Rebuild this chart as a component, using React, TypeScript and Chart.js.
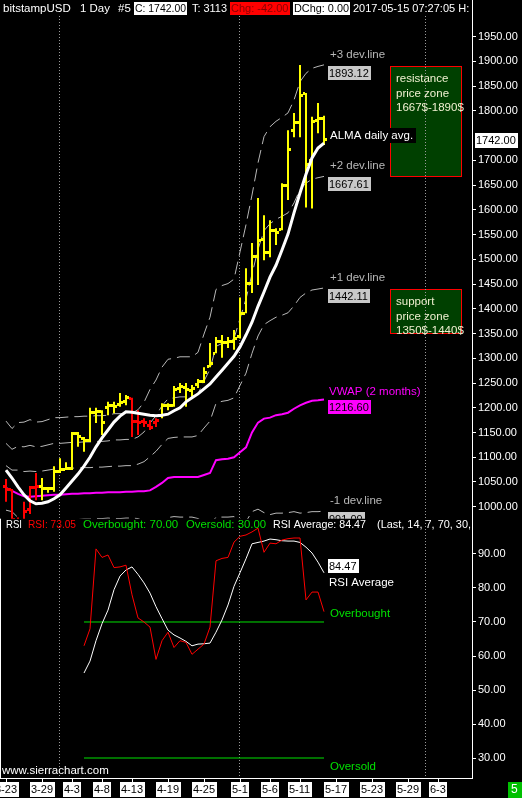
import { useEffect, useRef } from 'react';
import { Chart, registerables } from 'chart.js';

Chart.register(...registerables);

// ---------------- data ----------------
const barDates = [
  '3-23', '3-24', '3-25', '3-26', '3-27', '3-28', '3-29', '3-30', '3-31',
  '4-1', '4-2', '4-3', '4-4', '4-5', '4-6', '4-7', '4-8', '4-9', '4-10',
  '4-11', '4-12', '4-13', '4-14', '4-15', '4-16', '4-17', '4-18', '4-19', '4-20',
  '4-21', '4-22', '4-23', '4-24', '4-25', '4-26', '4-27', '4-28', '4-29', '4-30',
  '5-1', '5-2', '5-3', '5-4', '5-5', '5-6', '5-7', '5-8', '5-9', '5-10',
  '5-11', '5-12', '5-13', '5-14', '5-15',
];

const opens = [
  1040, 1034, 968, 960, 995, 1038, 1040, 1036, 1036, 1072,
  1076, 1078, 1148, 1138, 1134, 1190, 1192, 1200, 1204, 1206,
  1212, 1218, 1172, 1172, 1165, 1170, 1185, 1204, 1205, 1238,
  1240, 1234, 1246, 1253, 1283, 1310, 1333, 1331, 1334, 1345,
  1391, 1452, 1505, 1540, 1514, 1559, 1560, 1650, 1760, 1776,
  1836, 1700, 1780, 1784,
];
const highs = [
  1056, 1036, 978, 1010, 1042, 1068, 1058, 1040, 1082, 1098,
  1090, 1151, 1151, 1141, 1200, 1200, 1195, 1212, 1212, 1230,
  1226, 1220, 1195, 1179, 1175, 1179, 1209, 1209, 1244, 1250,
  1250, 1246, 1258, 1282, 1331, 1343, 1347, 1343, 1357, 1423,
  1482, 1533, 1624, 1589, 1579, 1563, 1654, 1761, 1796, 1893,
  1836, 1788, 1816, 1790,
];
const lows = [
  1010, 960, 930, 950, 985, 1013, 1013, 1028, 1030, 1068,
  1074, 1074, 1121, 1111, 1131, 1169, 1145, 1185, 1189, 1202,
  1205, 1141, 1145, 1161, 1155, 1161, 1179, 1195, 1202, 1230,
  1202, 1222, 1240, 1250, 1282, 1310, 1301, 1321, 1317, 1340,
  1391, 1432, 1448, 1498, 1504, 1529, 1559, 1620, 1747, 1747,
  1605, 1603, 1755, 1731,
];
const closes = [
  1034, 975, 960, 990, 1038, 1040, 1036, 1036, 1072, 1076,
  1078, 1148, 1142, 1134, 1190, 1192, 1170, 1205, 1203, 1210,
  1220, 1172, 1170, 1170, 1160, 1174, 1204, 1205, 1236, 1242,
  1236, 1238, 1253, 1272, 1290, 1333, 1331, 1334, 1340, 1391,
  1452, 1505, 1539, 1514, 1559, 1555, 1650, 1721, 1776, 1832,
  1691, 1778, 1784, 1742,
];

const alma = [
  1074, 1058, 1040, 1024, 1012, 1006, 1007, 1010, 1016, 1024,
  1038, 1052, 1066, 1082, 1100, 1121, 1139, 1155, 1171, 1183,
  1192, 1191, 1189, 1187, 1185, 1184, 1185, 1187, 1194, 1200,
  1212, 1220, 1228, 1238, 1248, 1262, 1276, 1290, 1304, 1323,
  1347, 1373, 1405, 1434, 1464, 1488, 1519, 1551, 1594, 1634,
  1672, 1705, 1725, 1735,
];

const vwap = [
  1038, 1032, 1026, 1021, 1020, 1021, 1022, 1023, 1024, 1024,
  1025, 1026, 1026, 1027, 1027, 1028, 1028, 1029, 1029, 1029,
  1030, 1030, 1031, 1031, 1033, 1040, 1048, 1058, 1060, 1060,
  1060, 1060, 1060, 1064, 1068, 1094, 1096, 1097, 1100, 1110,
  1120, 1150, 1170, 1178, 1180, 1185, 1187, 1190, 1198, 1205,
  1210, 1214, 1215, 1216.6,
];

const devSigma = [
  45, 42, 48, 50, 52, 50, 50, 51, 52, 52,
  52, 52, 52, 52, 52, 52, 52, 52, 53, 53,
  53, 53, 55, 60, 68, 72, 78, 80, 80, 81,
  81, 81, 84, 95, 105, 115, 117, 118, 120, 135,
  150, 160, 175, 190, 196, 198, 200, 202, 208, 218,
  222, 224, 225, 225.506,
];
const devLevels = [3, 2, 1, -1];

const rsi = [
  null, null, null, null, null, null, null, null, null, null, null, null, null,
  63, 68, 91.5, 89, 89.7, 86, 86.2, 86.7, 78, 71.2,
  70, 68.5, 59, 64.5, 67, 62.5, 64.5, 64, 60.5, 62,
  63.5, 68.5, 88, 88.7, 89, 93.5, 95.2, 95.6, 96.5, 97.6,
  90.5, 93.2, 93, 94.1, 94.5, 94.7, 94.7, 76.5, 78.8, 78.8,
  73.05,
];
const rsiAvg = [
  null, null, null, null, null, null, null, null, null, null, null, null, null,
  55, 58.5, 64.5, 69.5, 73.5, 79.5, 83.5, 85.3, 86.2, 84,
  81.5, 78.5, 74.5, 71, 67.6, 66.2, 65.3, 64.3, 63, 63.5,
  63.6, 63.8, 67, 70.6, 75, 80.5, 84.5, 88.6, 93, 93.4,
  93.8, 94.4, 94.2, 93.9, 93.8, 93.8, 93.4, 92, 90.3, 87.6,
  84.47,
];
const rsiLevels = [70, 30];
const rsiLevelNames = ['Overbought', 'Oversold'];

const xTickLabels = ['3-23', '3-29', '4-3', '4-8', '4-13', '4-19', '4-25', '5-1', '5-6', '5-11', '5-17', '5-23', '5-29', '6-3'];
const xTickIndex = [0, 6, 11, 16, 21, 27, 33, 39, 44, 49, 55, 61, 67, 72];
const monthStartIndex = [9, 39, 70];

const priceTickStep = 50;
const rsiTickStep = 10;

const zoneLow = [1667, 1350];
const zoneHigh = [1890, 1440];
const zoneFrom = [64, 64];
const zoneTo = [76, 76];
const zoneText = [
  ['resistance', 'price zone', '1667$-1890$'],
  ['support', 'price zone', '1350$-1440$'],
];

// ---------------- styling ----------------
const FONT = '"Liberation Sans", Arial, sans-serif';
const YELLOW = '#ffff00';
const RED = '#ff0000';
const GRAY = '#b8b8b8';
const MAGENTA = '#ff00ff';
const GREEN = '#00e000';
const W = 522;
const H = 798;
const BOTTOM_PAD = 20;

function text(ctx: any, s: string, x: number, y: number, color: string, size = 11.5, maxW?: number) {
  ctx.font = `${size}px ${FONT}`;
  ctx.textAlign = 'left';
  ctx.textBaseline = 'middle';
  ctx.fillStyle = color;
  if (maxW) ctx.fillText(s, x, y, maxW);
  else ctx.fillText(s, x, y);
}

function box(ctx: any, s: string, x: number, top: number, color: string, bg: string, size = 11, h = 14, padL = 1, padR = 2, fixedW?: number) {
  ctx.font = `${size}px ${FONT}`;
  const tw = Math.ceil(ctx.measureText(s).width);
  const w = fixedW ?? tw + padL + padR;
  ctx.fillStyle = bg;
  ctx.fillRect(x, top, w, h);
  ctx.fillStyle = color;
  ctx.textAlign = 'left';
  ctx.textBaseline = 'middle';
  ctx.fillText(s, x + padL, top + h / 2 + 0.5, w - padL - 1);
  return w;
}

const last = closes.length - 1;
const isDown = (i: number) => (i === 0 ? alma[1] < alma[0] : alma[i] < alma[i - 1]);

const overlay = {
  id: 'overlay',
  beforeDraw(chart: any) {
    const { ctx } = chart;
    ctx.save();
    ctx.fillStyle = '#000';
    ctx.fillRect(0, 0, chart.width, chart.height);
    ctx.restore();
  },
  beforeDatasetsDraw(chart: any) {
    const { ctx, chartArea } = chart;
    const x = chart.scales.x;
    const py = chart.scales.price;
    ctx.save();
    zoneLow.forEach((lo, k) => {
      const x0 = Math.round(x.getPixelForValue(zoneFrom[k]));
      const x1 = Math.round(x.getPixelForValue(zoneTo[k]));
      const y0 = Math.round(py.getPixelForValue(zoneHigh[k]));
      const y1 = Math.round(py.getPixelForValue(lo));
      ctx.fillStyle = '#004000';
      ctx.fillRect(x0, y0, x1 - x0, y1 - y0);
      ctx.strokeStyle = RED;
      ctx.lineWidth = 1;
      ctx.strokeRect(x0 + 0.5, y0 + 0.5, x1 - x0 - 1, y1 - y0 - 1);
      zoneText[k].forEach((line, j) => {
        text(ctx, line, x0 + 6, y0 + 13 + j * 14.5, '#f0f0d0', 11.5);
      });
    });
    ctx.strokeStyle = '#9a9a9a';
    ctx.lineWidth = 1;
    ctx.setLineDash([1, 2]);
    monthStartIndex.forEach((mi) => {
      const px = Math.round(x.getPixelForValue(mi)) - 0.5;
      ctx.beginPath();
      ctx.moveTo(px, chartArea.top + 16);
      ctx.lineTo(px, chartArea.bottom);
      ctx.stroke();
    });
    ctx.setLineDash([]);
    ctx.restore();
  },
  afterDatasetsDraw(chart: any) {
    const { ctx } = chart;
    const x = chart.scales.x;
    const py = chart.scales.price;
    const ry = chart.scales.rsi;
    const xe = Math.round(x.getPixelForValue(last));
    ctx.save();
    ctx.beginPath();
    ctx.rect(0, py.top, py.left, py.bottom - py.top);
    ctx.clip();
    devLevels.forEach((k) => {
      const v = vwap[last] + k * devSigma[last];
      const y = Math.round(py.getPixelForValue(v));
      text(ctx, `${k > 0 ? '+' : ''}${k} dev.line`, xe + 6, y - 10, GRAY, 11.5);
      box(ctx, v.toFixed(2), xe + 4, y + 1, '#000', '#c8c8c8');
    });
    const yv = Math.round(py.getPixelForValue(vwap[last]));
    text(ctx, 'VWAP (2 months)', xe + 5, yv - 8, MAGENTA, 11.5);
    box(ctx, vwap[last].toFixed(2), xe + 4, yv, '#000', MAGENTA);
    const ya = Math.round(py.getPixelForValue(alma[last]));
    box(ctx, 'ALMA daily avg.', xe + 4, ya - 15, '#fff', '#000', 11.5, 15, 2, 2);
    ctx.restore();

    ctx.save();
    const yAvg = Math.round(ry.getPixelForValue(rsiAvg[last] as number));
    box(ctx, (rsiAvg[last] as number).toFixed(2), xe + 4, yAvg - 14, '#000', '#fff', 11, 14);
    text(ctx, 'RSI Average', xe + 5, yAvg + 10, '#fff', 11.5);
    rsiLevels.forEach((lv, k) => {
      const y = Math.round(ry.getPixelForValue(lv));
      text(ctx, rsiLevelNames[k], xe + 6, k === 0 ? y - 8 : y + 9, GREEN, 11.5);
    });
    ctx.restore();
  },
  afterDraw(chart: any) {
    const { ctx, chartArea } = chart;
    const x = chart.scales.x;
    const py = chart.scales.price;
    const ry = chart.scales.rsi;
    ctx.save();
    ctx.fillStyle = '#000';
    ctx.fillRect(0, 0, chartArea.right, 16);
    ctx.beginPath();
    ctx.rect(0, 0, chartArea.right, chart.height);
    ctx.clip();
    const hy = 9;
    text(ctx, 'bitstampUSD', 3, hy, '#fff', 11.5, 70);
    text(ctx, '1 Day', 80, hy, '#fff', 11.5, 30);
    text(ctx, '#5', 118, hy, '#fff', 11.5, 13);
    box(ctx, `C: ${closes[last].toFixed(2)}`, 134, 2, '#000', '#fff', 11, 13, 1, 1, 53);
    text(ctx, 'T: 3113', 192, hy, '#fff', 11, 35);
    box(ctx, `Chg: ${(closes[last] - closes[last - 1]).toFixed(2)}`, 230, 2, '#8a0000', '#ff0000', 11, 13, 1, 1, 60);
    box(ctx, 'DChg: 0.00', 293, 2, '#000', '#fff', 11, 13, 1, 1, 57);
    text(ctx, '2017-05-15 07:27:05 H:', 353, hy, '#fff', 11, 118);

    const ry0 = ry.top + 6.5;
    const segs: [string, string, number, number][] = [
      ['RSI', '#fff', 6, 16],
      [`RSI: ${(rsi[last] as number).toFixed(2)}`, RED, 28, 48],
      [`Overbought: ${rsiLevels[0].toFixed(2)}`, GREEN, 83, 96],
      [`Oversold: ${rsiLevels[1].toFixed(2)}`, GREEN, 186, 80],
      [`RSI Average: ${(rsiAvg[last] as number).toFixed(2)}`, '#fff', 273, 93],
      ['(Last, 14, 7, 70, 30,', '#fff', 377, 94],
    ];
    segs.forEach(([s, c, sx, mw]) => text(ctx, s, sx, ry0, c, 11.5, mw));
    ctx.restore();

    ctx.save();
    ctx.strokeStyle = '#fff';
    ctx.lineWidth = 1;
    ctx.beginPath();
    ctx.moveTo(0, chartArea.bottom + 0.5);
    ctx.lineTo(chartArea.right + 1, chartArea.bottom + 0.5);
    ctx.moveTo(0.5, ry.top);
    ctx.lineTo(0.5, chartArea.bottom);
    ctx.stroke();

    text(ctx, 'www.sierrachart.com', 2, chartArea.bottom - 7, '#fff', 11.5, 112);

    xTickIndex.forEach((ti, k) => {
      const px = Math.round(x.getPixelForValue(ti));
      const s = xTickLabels[k];
      ctx.font = `11px ${FONT}`;
      const w = Math.ceil(ctx.measureText(s).width);
      const bx = Math.round(px - w / 2) - 1;
      ctx.fillStyle = '#fff';
      ctx.fillRect(bx, chartArea.bottom + 4, w + 2, 15);
      ctx.fillStyle = '#000';
      ctx.textAlign = 'left';
      ctx.textBaseline = 'middle';
      ctx.fillText(s, bx + 1, chartArea.bottom + 12);
      ctx.fillStyle = '#fff';
      ctx.fillRect(px, chartArea.bottom, 1, 4);
    });
    ctx.fillStyle = '#00c000';
    ctx.fillRect(508, chartArea.bottom + 4, 14, 16);
    text(ctx, '5', 511, chartArea.bottom + 12, '#fff', 12);

    const yl = Math.round(py.getPixelForValue(closes[last]));
    box(ctx, closes[last].toFixed(2), py.left + 3, yl - 7, '#000', '#fff', 11, 15, 1, 2);
    ctx.restore();
  },
};

const stepTicks = (step: number) => (s: any) => {
  const out: any[] = [];
  for (let v = Math.ceil(s.min / step) * step; v <= s.max; v += step) out.push({ value: v });
  s.ticks = out;
};

export default function App() {
  const ref = useRef<HTMLCanvasElement>(null);

  useEffect(() => {
    const canvas = ref.current as HTMLCanvasElement;
    const mk = (color: string, side: 'open' | 'close') => {
      const c = document.createElement('canvas');
      c.width = 6;
      c.height = 3;
      const g = c.getContext('2d') as CanvasRenderingContext2D;
      g.fillStyle = color;
      g.fillRect(side === 'open' ? 0 : 4, 0, 2, 3);
      return c;
    };
    const imgs: any = {
      up: { open: mk(YELLOW, 'open'), close: mk(YELLOW, 'close') },
      down: { open: mk(RED, 'open'), close: mk(RED, 'close') },
    };
    const idx = closes.map((_, i) => i);
    const rsiStart = rsi.findIndex((v) => v !== null);
    const pts = (arr: (number | null)[]) =>
      idx.filter((i) => arr[i] !== null).map((i) => ({ x: i, y: arr[i] as number }));

    const datasets: any[] = [
      {
        type: 'line', label: 'ALMA', data: pts(alma), yAxisID: 'price',
        borderColor: '#ffffff', borderWidth: 3, pointRadius: 0, tension: 0, order: 1,
      },
      {
        type: 'line', label: 'Open', data: pts(opens), yAxisID: 'price', showLine: false,
        pointRadius: 3, pointStyle: (c: any) => imgs[isDown(c.dataIndex ?? 0) ? 'down' : 'up'].open,
        order: 2,
      },
      {
        type: 'line', label: 'Close', data: pts(closes), yAxisID: 'price', showLine: false,
        pointRadius: 3, pointStyle: (c: any) => imgs[isDown(c.dataIndex ?? 0) ? 'down' : 'up'].close,
        order: 2,
      },
      {
        type: 'bar', label: 'High-Low', data: idx.map((i) => ({ x: i, y: [lows[i], highs[i]] })),
        yAxisID: 'price', backgroundColor: (c: any) => (isDown(c.dataIndex ?? 0) ? RED : YELLOW),
        barThickness: 2, borderWidth: 0, inflateAmount: 0, order: 3,
      },
      {
        type: 'line', label: 'VWAP', data: pts(vwap), yAxisID: 'price',
        borderColor: MAGENTA, borderWidth: 2, pointRadius: 0, tension: 0, order: 4,
      },
      ...devLevels.map((k) => ({
        type: 'line', label: `dev ${k}`, data: idx.map((i) => ({ x: i, y: vwap[i] + k * devSigma[i] })),
        yAxisID: 'price', borderColor: GRAY, borderWidth: 1, borderDash: [13, 6], pointRadius: 0,
        tension: 0, order: 5,
      })),
      {
        type: 'line', label: 'RSI', data: pts(rsi), yAxisID: 'rsi',
        borderColor: RED, borderWidth: 1, pointRadius: 0, tension: 0, order: 1,
      },
      {
        type: 'line', label: 'RSI Average', data: pts(rsiAvg), yAxisID: 'rsi',
        borderColor: '#ffffff', borderWidth: 1, pointRadius: 0, tension: 0, order: 2,
      },
      ...rsiLevels.map((lv) => ({
        type: 'line', label: `level ${lv}`, data: [{ x: rsiStart, y: lv }, { x: last, y: lv }],
        yAxisID: 'rsi', borderColor: GREEN, borderWidth: 1, pointRadius: 0, order: 3,
      })),
    ];

    const axisCommon = {
      type: 'linear', position: 'right', stack: 'panels', offset: false,
      afterFit: (s: any) => { s.width = 50; s.paddingTop = 0; s.paddingBottom = 0; s.paddingLeft = 0; s.paddingRight = 0; },
      grid: { display: true, drawOnChartArea: false, drawTicks: true, tickLength: 4, color: '#ffffff' },
      border: { display: true, color: '#ffffff', width: 1 },
    };

    const chart = new Chart(canvas, {
      type: 'bar',
      data: { datasets },
      options: {
        responsive: false,
        animation: false,
        devicePixelRatio: 1,
        events: [],
        layout: { autoPadding: false, padding: { left: 0, right: 0, top: 0, bottom: BOTTOM_PAD } },
        plugins: { legend: { display: false }, tooltip: { enabled: false } },
        scales: {
          x: { type: 'linear', min: -1, max: -1 + 472 / 6, display: false, offset: false },
          price: {
            ...axisCommon,
            stackWeight: 2,
            min: 975.8, max: 2024.2,
            afterBuildTicks: stepTicks(priceTickStep),
            ticks: {
              autoSkip: false, padding: 2, color: '#ffffff',
              font: { family: 'Liberation Sans', size: 11 },
              callback: (v: any) => (v > 1950.5 || Math.abs(v - closes[last]) < 20 ? null : Number(v).toFixed(2)),
            },
          },
          rsi: {
            ...axisCommon,
            stackWeight: 1,
            min: 24.12, max: 100.39,
            afterBuildTicks: stepTicks(rsiTickStep),
            ticks: {
              autoSkip: false, padding: 2, color: '#ffffff',
              font: { family: 'Liberation Sans', size: 11 },
              callback: (v: any) => (v > 90.5 ? null : Number(v).toFixed(2)),
            },
          },
        },
      } as any,
      plugins: [overlay],
    } as any);

    return () => chart.destroy();
  }, []);

  return (
    <div style={{ position: 'fixed', left: 0, top: 0, width: W, height: H, background: '#000' }}>
      <canvas ref={ref} width={W} height={H} style={{ display: 'block' }} />
    </div>
  );
}
